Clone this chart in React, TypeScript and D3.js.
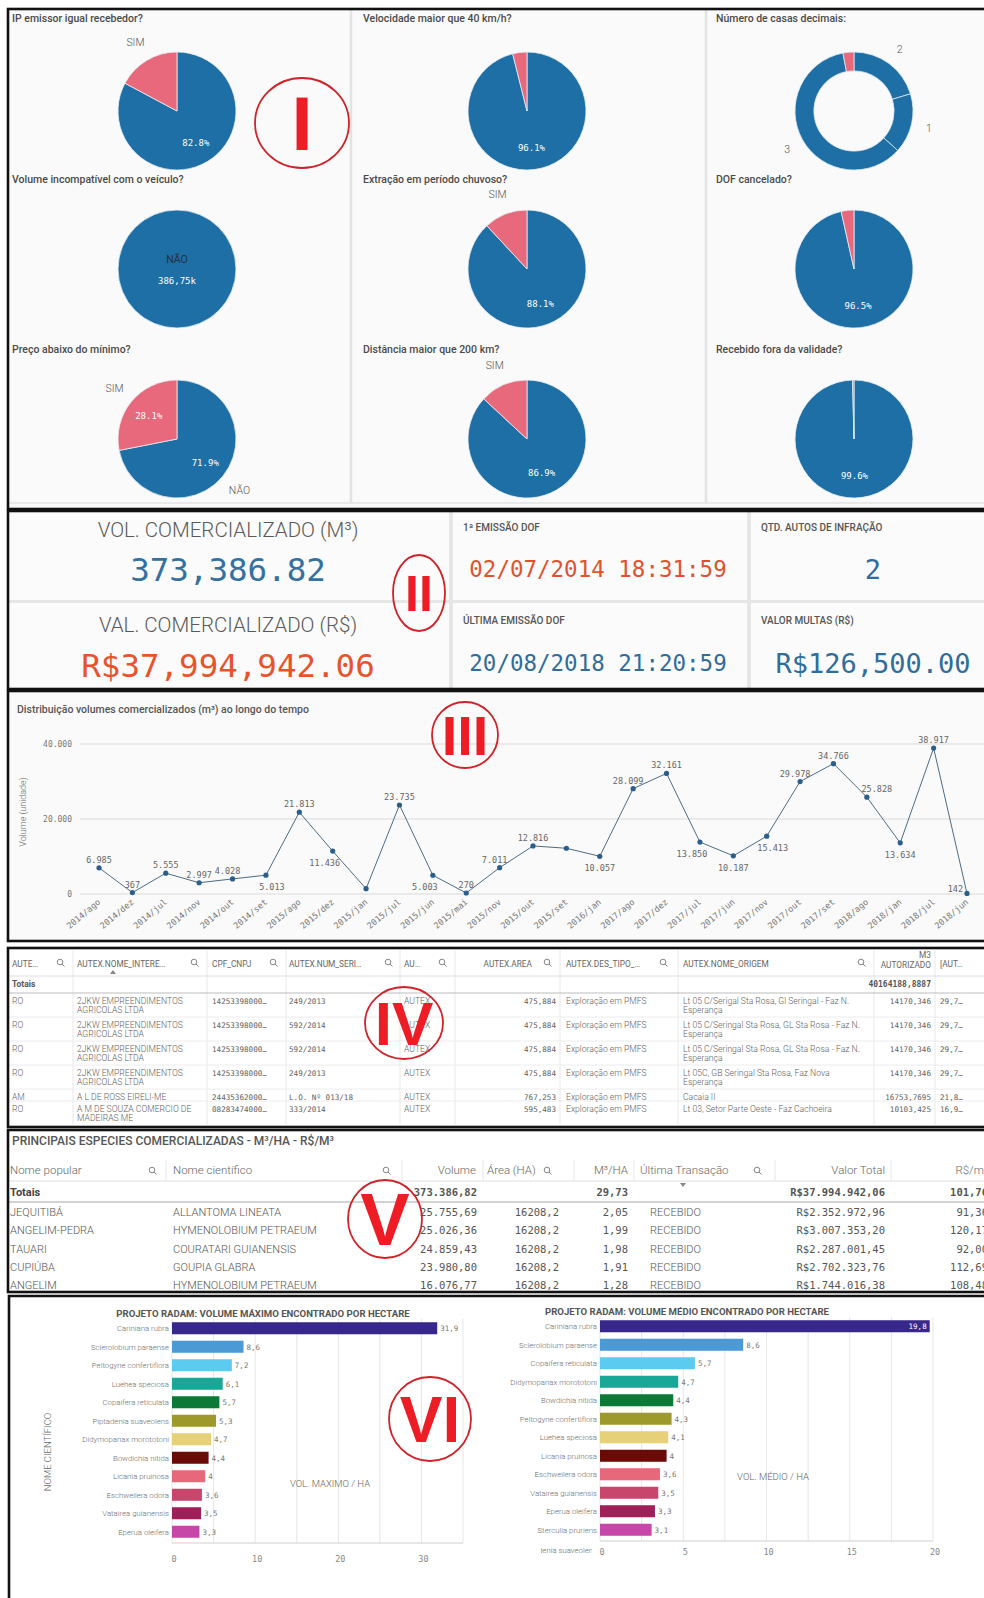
import React from 'react';
import * as d3 from 'd3';

// ---------- I. indicadores
const pieTitles = [
  'IP emissor igual recebedor?',
  'Velocidade maior que 40 km/h?',
  'Número de casas decimais:',
  'Volume incompatível com o veículo?',
  'Extração em período chuvoso?',
  'DOF cancelado?',
  'Preço abaixo do mínimo?',
  'Distância maior que 200 km?',
  'Recebido fora da validade?',
];
const pieCategories = ['NÃO', 'SIM'];
// share of "NÃO" per pie (the donut slot is NaN)
const pieNaoPct = [82.8, 96.1, NaN, 100, 88.1, 96.5, 71.9, 86.9, 99.6];
const volIncompativelNao = 386750;
const decimalCategories = ['2', '1', '3', '0'];
const decimalPct = [20.3, 16.4, 60.3, 3.0];

// ---------- II. KPIs
const kpiVolume = 373386.82;
const kpiValor = 37994942.06;
const kpiPrimeiraEmissao = '02/07/2014 18:31:59';
const kpiUltimaEmissao = '20/08/2018 21:20:59';
const kpiAutos = 2;
const kpiMultas = 126500;

// ---------- III. volumes no tempo
const months = [
  '2014/ago', '2014/dez', '2014/jul', '2014/nov', '2014/out', '2014/set',
  '2015/ago', '2015/dez', '2015/jan', '2015/jul', '2015/jun', '2015/mai',
  '2015/nov', '2015/out', '2015/set', '2016/jan', '2017/ago', '2017/dez',
  '2017/jul', '2017/jun', '2017/nov', '2017/out', '2017/set', '2018/ago',
  '2018/jan', '2018/jul', '2018/jun',
];
const monthVolumes = [
  6985, 367, 5555, 2997, 4028, 5013,
  21813, 11436, 1420, 23735, 5003, 270,
  7011, 12816, 12200, 10057, 28099, 32161,
  13850, 10187, 15413, 29978, 34766, 25828,
  13634, 38917, 142,
];
const unlabeledMonths = ['2015/jan', '2015/set'];
const volumeTicks = [0, 20000, 40000];

// ---------- IV. AUTEX
const autexHeaders = ['AUTE…', 'AUTEX.NOME_INTERE…', 'CPF_CNPJ', 'AUTEX.NUM_SERI…', 'AU…', 'AUTEX.AREA', 'AUTEX.DES_TIPO_…', 'AUTEX.NOME_ORIGEM', 'M3\nAUTORIZADO', '[AUT…'];
const autexUf = ['RO', 'RO', 'RO', 'RO', 'AM', 'RO'];
const autexNome = [
  '2JKW EMPREENDIMENTOS\nAGRICOLAS LTDA',
  '2JKW EMPREENDIMENTOS\nAGRICOLAS LTDA',
  '2JKW EMPREENDIMENTOS\nAGRICOLAS LTDA',
  '2JKW EMPREENDIMENTOS\nAGRICOLAS LTDA',
  'A L DE ROSS EIRELI-ME',
  'A M DE SOUZA COMERCIO DE\nMADEIRAS ME',
];
const autexCpf = ['14253398000…', '14253398000…', '14253398000…', '14253398000…', '24435362000…', '08283474000…'];
const autexNumSerie = ['249/2013', '592/2014', '592/2014', '249/2013', 'L.O. Nº 013/18', '333/2014'];
const autexTipo = ['AUTEX', 'AUTEX', 'AUTEX', 'AUTEX', 'AUTEX', 'AUTEX'];
const autexArea = [475.884, 475.884, 475.884, 475.884, 767.253, 595.483];
const autexDesTipo = ['Exploração em PMFS', 'Exploração em PMFS', 'Exploração em PMFS', 'Exploração em PMFS', 'Exploração em PMFS', 'Exploração em PMFS'];
const autexOrigem = [
  'Lt 05 C/Serigal Sta Rosa, Gl Seringal - Faz N.\nEsperança',
  'Lt 05 C/Seringal Sta Rosa, GL Sta Rosa - Faz N.\nEsperança',
  'Lt 05 C/Seringal Sta Rosa, GL Sta Rosa - Faz N.\nEsperança',
  'Lt 05C, GB Seringal Sta Rosa, Faz Nova\nEsperança',
  'Cacaia II',
  'Lt 03, Setor Parte Oeste - Faz Cachoeira',
];
const autexM3 = [14170.346, 14170.346, 14170.346, 14170.346, 16753.7695, 10103.425];
const autexCut = ['29,7…', '29,7…', '29,7…', '29,7…', '21,8…', '16,9…'];
const autexM3Total = 40164188.8887;

// ---------- V. espécies
const especieHeaders = ['Nome popular', 'Nome científico', 'Volume', 'Área (HA)', 'M³/HA', 'Última Transação', 'Valor Total', 'R$/m³'];
const especiePopular = ['JEQUITIBÁ', 'ANGELIM-PEDRA', 'TAUARI', 'CUPIÚBA', 'ANGELIM'];
const especieCientifico = ['ALLANTOMA LINEATA', 'HYMENOLOBIUM PETRAEUM', 'COURATARI GUIANENSIS', 'GOUPIA GLABRA', 'HYMENOLOBIUM PETRAEUM'];
const especieVolume = [25755.69, 25026.36, 24859.43, 23980.80, 16076.77];
const especieArea = [16208.2, 16208.2, 16208.2, 16208.2, 16208.2];
const especieM3Ha = [2.05, 1.99, 1.98, 1.91, 1.28];
const especieTransacao = ['RECEBIDO', 'RECEBIDO', 'RECEBIDO', 'RECEBIDO', 'RECEBIDO'];
const especieValor = [2352972.96, 3007353.20, 2287001.45, 2702323.76, 1744016.38];
const especieRsM3 = [91.36, 120.17, 92.00, 112.69, 108.48];
const totalVolume = 373386.82;
const totalM3Ha = 29.73;
const totalValor = 37994942.06;
const totalRsM3 = 101.76;

// ---------- VI. RADAM
const radamMaxSpecies = ['Cariniana rubra', 'Sclerolobium paraense', 'Peltogyne confertiflora', 'Luehea speciosa', 'Copaifera reticulata', 'Piptadenia suaveolens', 'Didymopanax morototoni', 'Bowdichia nitida', 'Licania pruinosa', 'Eschweilera odora', 'Vatairea guianensis', 'Eperua oleifera'];
const radamMaxValues = [31.9, 8.6, 7.2, 6.1, 5.7, 5.3, 4.7, 4.4, 4, 3.6, 3.5, 3.3];
const radamMedSpecies = ['Cariniana rubra', 'Sclerolobium paraense', 'Copaifera reticulata', 'Didymopanax morototoni', 'Bowdichia nitida', 'Peltogyne confertiflora', 'Luehea speciosa', 'Licania pruinosa', 'Eschweilera odora', 'Vatairea guianensis', 'Eperua oleifera', 'Sterculia pruriens'];
const radamMedValues = [19.8, 8.6, 5.7, 4.7, 4.4, 4.3, 4.1, 4, 3.6, 3.5, 3.3, 3.1];
const radamMedOverflow = 'Piptadenia suaveolens';
const radamPalette = ['#38288c', '#4b9ad5', '#5ccbf0', '#19a897', '#0c7a36', '#9d9a2b', '#e6d078', '#6b0b07', '#e8687b', '#c8466b', '#9f1f58', '#c647a7'];

const BLUE = '#1d6fa6';
const PINK = '#e8697b';
const MONO = "'DejaVu Sans Mono', monospace";
const SANS = "Roboto, 'Open Sans', sans-serif";

const br = d3.formatLocale({ decimal: ',', thousands: '.', grouping: [3], currency: ['R$', ''] });
const pct = (v: number) => d3.format('.1f')(v) + '%';

function Lines({ x, y, text, lh, ...rest }: any) {
  const parts = String(text).split('\n');
  return (
    <text x={x} y={y} {...rest}>
      {parts.map((p, i) => (
        <tspan key={i} x={x} dy={i === 0 ? 0 : lh}>{p}</tspan>
      ))}
    </text>
  );
}

function SearchIcon({ x, y }: { x: number; y: number }) {
  return (
    <g stroke="#777" strokeWidth={0.9} fill="none">
      <circle cx={x} cy={y} r={2.8} />
      <line x1={x + 2} y1={y + 2} x2={x + 4.5} y2={y + 4.5} />
    </g>
  );
}

function FlagPie({ cx, cy, r, naoPct, total }: { cx: number; cy: number; r: number; naoPct: number; total?: number }) {
  const values = [naoPct, 100 - naoPct];
  const arcs = d3.pie<number>().sort(null)(values);
  const arc = d3.arc<d3.PieArcDatum<number>>().innerRadius(0).outerRadius(r);
  const inner = d3.arc<d3.PieArcDatum<number>>().innerRadius(r * 0.62).outerRadius(r * 0.62);
  const outer = d3.arc<d3.PieArcDatum<number>>().innerRadius(r * 1.37).outerRadius(r * 1.37);
  const colors = [BLUE, PINK];
  return (
    <g transform={`translate(${cx},${cy})`}>
      {arcs.map((a, i) => a.value > 0 && (
        <path key={i} d={arc(a) || ''} fill={colors[i]} stroke="#e9eef3" strokeWidth={0.8} />
      ))}
      {arcs.map((a, i) => {
        const share = a.value;
        if (share >= 99.95) {
          return (
            <g key={'l' + i}>
              <text y={-6} textAnchor="middle" fontSize={10.5} fill="#24313c">{pieCategories[i]}</text>
              <text y={15} textAnchor="middle" fontSize={9} fill="#fff" fontFamily={MONO}>{br.format('.5s')(total || 0)}</text>
            </g>
          );
        }
        const out: any[] = [];
        if (share >= 25) {
          const [lx, ly] = inner.centroid(a);
          out.push(<text key={'i' + i} x={lx} y={ly + 3.5} textAnchor="middle" fontSize={9} fill="#fff" fontFamily={MONO}>{pct(share)}</text>);
        }
        if (share >= 10 && share < 75) {
          const [ox, oy] = outer.centroid(a);
          out.push(<text key={'o' + i} x={ox} y={oy + 4} textAnchor="middle" fontSize={10.5} fill="#555" fontWeight={300}>{pieCategories[i]}</text>);
        }
        return out;
      })}
    </g>
  );
}

function DecimalDonut({ cx, cy, r }: { cx: number; cy: number; r: number }) {
  const arcs = d3.pie<number>().sort(null)(decimalPct);
  const arc = d3.arc<d3.PieArcDatum<number>>().innerRadius(r * 0.68).outerRadius(r);
  const outer = d3.arc<d3.PieArcDatum<number>>().innerRadius(r * 1.3).outerRadius(r * 1.3);
  const total = d3.sum(decimalPct);
  return (
    <g transform={`translate(${cx},${cy})`}>
      {arcs.map((a, i) => (
        <path key={i} d={arc(a) || ''} fill={decimalCategories[i] === '0' ? PINK : BLUE} stroke="#dfe8f0" strokeWidth={0.8} />
      ))}
      {arcs.map((a, i) => {
        if (a.value / total < 0.05) return null;
        const [ox, oy] = outer.centroid(a);
        return <text key={'t' + i} x={ox} y={oy + 4} textAnchor="middle" fontSize={10.5} fill="#555" fontWeight={300}>{decimalCategories[i]}</text>;
      })}
    </g>
  );
}

function IndicatorPies() {
  const titleX = [12, 363, 716];
  const cxs = [177, 527, 854];
  const cys = [111, 269, 439];
  const titleY = [22, 183, 353];
  const r = 59;
  return (
    <g>
      <rect x={8} y={9} width={990} height={500} fill="#fafafa" />
      <line x1={351} x2={351} y1={9} y2={503} stroke="#e3e3e3" strokeWidth={2.5} />
      <line x1={706} x2={706} y1={9} y2={503} stroke="#e3e3e3" strokeWidth={2.5} />
      <line x1={8} x2={990} y1={503} y2={503} stroke="#e3e3e3" strokeWidth={1.5} />
      {pieTitles.map((t, i) => {
        const row = Math.floor(i / 3), col = i % 3;
        return (
          <g key={i}>
            <text x={titleX[col]} y={titleY[row]} fontSize={10.5} fontWeight={500} fill="#4a4a4a">{t}</text>
            {isNaN(pieNaoPct[i])
              ? <DecimalDonut cx={cxs[col]} cy={cys[row]} r={r} />
              : <FlagPie cx={cxs[col]} cy={cys[row]} r={r} naoPct={pieNaoPct[i]} total={volIncompativelNao} />}
          </g>
        );
      })}
    </g>
  );
}

function KpiPanel() {
  const labelStyle = { fontSize: 10, fontWeight: 500, fill: '#555' } as any;
  return (
    <g>
      <rect x={8} y={511} width={990} height={178} fill="#e6e6e6" />
      <rect x={8} y={511} width={441} height={89} fill="#fbfbfb" />
      <rect x={8} y={603} width={441} height={86} fill="#fbfbfb" />
      <rect x={453} y={511} width={294} height={89} fill="#fbfbfb" />
      <rect x={453} y={603} width={294} height={86} fill="#fbfbfb" />
      <rect x={751} y={511} width={247} height={89} fill="#fbfbfb" />
      <rect x={751} y={603} width={247} height={86} fill="#fbfbfb" />

      <text x={228} y={537} textAnchor="middle" fontSize={20.5} fontWeight={300} fill="#595959">VOL. COMERCIALIZADO (M³)</text>
      <text x={228} y={581} textAnchor="middle" fontSize={32.5} fill="#3471a0" fontFamily={MONO}>{d3.format(',.2f')(kpiVolume)}</text>
      <text x={228} y={632} textAnchor="middle" fontSize={20.5} fontWeight={300} fill="#595959">VAL. COMERCIALIZADO (R$)</text>
      <text x={228} y={677} textAnchor="middle" fontSize={32.5} fill="#e9532c" fontFamily={MONO}>{'R' + d3.format('$,.2f')(kpiValor)}</text>

      <text x={463} y={531} {...labelStyle}>1ª EMISSÃO DOF</text>
      <text x={598} y={577} textAnchor="middle" fontSize={22.5} fill="#e0522f" fontFamily={MONO}>{kpiPrimeiraEmissao}</text>
      <text x={463} y={624} {...labelStyle}>ÚLTIMA EMISSÃO DOF</text>
      <text x={598} y={671} textAnchor="middle" fontSize={22.5} fill="#2f6d9c" fontFamily={MONO}>{kpiUltimaEmissao}</text>

      <text x={761} y={531} {...labelStyle}>QTD. AUTOS DE INFRAÇÃO</text>
      <text x={873} y={579} textAnchor="middle" fontSize={27} fill="#2f6d9c" fontFamily={MONO}>{kpiAutos}</text>
      <text x={761} y={624} {...labelStyle}>VALOR MULTAS (R$)</text>
      <text x={873} y={673} textAnchor="middle" fontSize={27} fill="#2f6d9c" fontFamily={MONO}>{'R' + d3.format('$,.2f')(kpiMultas)}</text>
    </g>
  );
}

function VolumeLine() {
  const x = d3.scalePoint<string>().domain(months).range([99, 967]);
  const y = d3.scaleLinear().domain([0, 40000]).range([894, 744]);
  const line = d3.line<number>().x((_, i) => x(months[i]) as number).y(d => y(d));
  const n = monthVolumes.length;
  return (
    <g>
      <rect x={8} y={691} width={990} height={250} fill="#fafafa" />
      <text x={17} y={713} fontSize={10.5} fontWeight={500} fill="#555">Distribuição volumes comercializados (m³) ao longo do tempo</text>
      {volumeTicks.map(t => (
        <g key={t}>
          <line x1={80} x2={984} y1={y(t)} y2={y(t)} stroke="#dadada" strokeWidth={1} />
          <text x={72} y={y(t) + 3} textAnchor="end" fontSize={8} fill="#777" fontFamily={MONO}>{br.format(',d')(t)}</text>
        </g>
      ))}
      <text transform={`translate(26,${y(20000) - 7}) rotate(-90)`} textAnchor="middle" fontSize={9} fill="#666" fontWeight={300}>Volume (unidade)</text>
      <path d={line(monthVolumes) || ''} fill="none" stroke="#4d6b85" strokeWidth={1} />
      {monthVolumes.map((v, i) => (
        <circle key={i} cx={x(months[i])} cy={y(v)} r={2.6} fill="#2b5e8a" />
      ))}
      {monthVolumes.map((v, i) => {
        if (unlabeledMonths.includes(months[i])) return null;
        const px = x(months[i]) as number, py = y(v);
        const prev = i > 0 ? monthVolumes[i - 1] : v;
        const next = i < n - 1 ? monthVolumes[i + 1] : v;
        let above = i === 0 || i === n - 1 || v >= (prev + next) / 2;
        if (y(0) - py < 15) above = true;
        const rising = prev < v && v < next;
        const falling = prev > v && v > next;
        let dx = 0;
        if (above && rising) dx = -5;
        if (above && falling) dx = 10;
        if (!above && rising) dx = 6;
        if (!above && falling) dx = -8;
        let anchor = 'middle';
        let ty = above ? py - 5 : py + 15;
        if (i === n - 1) { anchor = 'end'; dx = -4; ty = py - 1; }
        return (
          <text key={'v' + i} x={px + dx} y={ty} textAnchor={anchor} fontSize={8.5} fill="#666" fontFamily={MONO}>{br.format(',d')(v)}</text>
        );
      })}
      {months.map(m => (
        <text key={m} transform={`translate(${(x(m) as number) + 2},${903}) rotate(-40)`} textAnchor="end" fontSize={8.5} fill="#777" fontFamily={MONO}>{m}</text>
      ))}
    </g>
  );
}

function AutexTable() {
  const seps = [8, 73, 207, 286, 400, 455, 560, 678, 874, 935, 998];
  const textX = [12, 77, 212, 289, 404, null, 566, 683, null, 940];
  const rightX = [null, null, null, null, null, 556, null, null, 931, null];
  const headRightX = [null, null, null, null, null, 532, null, null, 931, null];
  const icons = [60, 194, 273, 388, 442, 547, 663, 861];
  const rows = autexUf.map((uf, i) => [
    uf, autexNome[i], autexCpf[i], autexNumSerie[i], autexTipo[i],
    br.format('.3f')(autexArea[i]), autexDesTipo[i], autexOrigem[i],
    br.format('.6~f')(autexM3[i]), autexCut[i],
  ]);
  const numeric = [false, false, true, true, false, true, false, false, true, true];
  let top = 993;
  const tops = rows.map(r => {
    const lines = d3.max(r, c => String(c).split('\n').length) || 1;
    const t = top;
    top += 12 * lines;
    return t;
  });
  return (
    <g>
      <rect x={8} y={948} width={990} height={179} fill="#fff" />
      {seps.slice(1, -1).map(s => <line key={s} x1={s} x2={s} y1={950} y2={1125} stroke="#e8e8e8" />)}
      <line x1={8} x2={998} y1={976} y2={976} stroke="#dedede" />
      <line x1={8} x2={998} y1={993} y2={993} stroke="#bdbdbd" />
      {tops.slice(1).map(t => <line key={t} x1={8} x2={998} y1={t} y2={t} stroke="#ececec" />)}
      {autexHeaders.map((h, c) => {
        if (headRightX[c] != null) {
          return h.includes('\n')
            ? <Lines key={c} x={headRightX[c]} y={958} lh={10} text={h} textAnchor="end" fontSize={8.3} fill="#666" />
            : <text key={c} x={headRightX[c]} y={967} textAnchor="end" fontSize={8.3} fill="#666">{h}</text>;
        }
        return <text key={c} x={textX[c]} y={967} fontSize={8.3} fill="#666">{h}</text>;
      })}
      {icons.map(ix => <SearchIcon key={ix} x={ix} y={962} />)}
      <path d="M110,974 L113,970 L116,974 Z" fill="#888" />
      <text x={12} y={987} fontSize={8.5} fontWeight={700} fill="#555">Totais</text>
      <text x={931} y={987} textAnchor="end" fontSize={8} fontWeight={700} fill="#555" fontFamily={MONO}>{br.format('.4f')(autexM3Total)}</text>
      {rows.map((r, ri) => (
        <g key={ri}>
          {r.map((cell, c) => {
            const mono = numeric[c];
            const props: any = { fontSize: mono ? 7.6 : 8.6, fill: '#616161', fontFamily: mono ? MONO : SANS, fontWeight: 300 };
            const y0 = tops[ri] + 11;
            if (rightX[c] != null) return <text key={c} x={rightX[c]} y={y0} textAnchor="end" {...props}>{cell}</text>;
            return <Lines key={c} x={textX[c]} y={y0} lh={9} text={cell} {...props} />;
          })}
        </g>
      ))}
    </g>
  );
}

function SpeciesTable() {
  const seps = [166, 402, 483, 574, 634, 775, 891];
  const rowY = especiePopular.map((_, i) => 1212 + i * 18.25);
  const cellFont: any = { fontSize: 11, fill: '#555', fontWeight: 300 };
  const numFont: any = { fontSize: 10.5, fill: '#555', fontFamily: MONO };
  return (
    <g>
      <rect x={8} y={1130} width={990} height={162} fill="#fff" />
      <text x={12} y={1145} fontSize={12} fontWeight={500} fill="#555">PRINCIPAIS ESPECIES COMERCIALIZADAS - M³/HA - R$/M³</text>
      {seps.map(s => <line key={s} x1={s} x2={s} y1={1160} y2={1181} stroke="#e6e6e6" />)}
      <line x1={8} x2={998} y1={1181} y2={1181} stroke="#e0e0e0" />
      <line x1={8} x2={998} y1={1202} y2={1202} stroke="#a8a8a8" strokeWidth={1.2} />
      <text x={10} y={1174} fontSize={11.5} fontWeight={300} fill="#666">{especieHeaders[0]}</text>
      <text x={173} y={1174} fontSize={11.5} fontWeight={300} fill="#666">{especieHeaders[1]}</text>
      <text x={476} y={1174} textAnchor="end" fontSize={11.5} fontWeight={300} fill="#666">{especieHeaders[2]}</text>
      <text x={487} y={1174} fontSize={11.5} fontWeight={300} fill="#666">{especieHeaders[3]}</text>
      <text x={628} y={1174} textAnchor="end" fontSize={11.5} fontWeight={300} fill="#666">{especieHeaders[4]}</text>
      <text x={640} y={1174} fontSize={11.5} fontWeight={300} fill="#666">{especieHeaders[5]}</text>
      <text x={885} y={1174} textAnchor="end" fontSize={11.5} fontWeight={300} fill="#666">{especieHeaders[6]}</text>
      <text x={988} y={1174} textAnchor="end" fontSize={11.5} fontWeight={300} fill="#666">{especieHeaders[7]}</text>
      {[152, 386, 547, 757].map(ix => <SearchIcon key={ix} x={ix} y={1170} />)}
      <path d="M680,1183 L686,1183 L683,1187 Z" fill="#888" />

      <text x={10} y={1196} fontSize={11} fontWeight={700} fill="#444">Totais</text>
      <text x={477} y={1196} textAnchor="end" {...numFont} fontWeight={700}>{br.format(',.2f')(totalVolume)}</text>
      <text x={628} y={1196} textAnchor="end" {...numFont} fontWeight={700}>{br.format(',.2f')(totalM3Ha)}</text>
      <text x={885} y={1196} textAnchor="end" {...numFont} fontWeight={700}>{br.format('$,.2f')(totalValor)}</text>
      <text x={988} y={1196} textAnchor="end" {...numFont} fontWeight={700}>{br.format(',.2f')(totalRsM3)}</text>

      {especiePopular.map((p, i) => (
        <g key={p + i}>
          <text x={10} y={rowY[i] + 4} {...cellFont}>{p}</text>
          <text x={173} y={rowY[i] + 4} {...cellFont}>{especieCientifico[i]}</text>
          <text x={477} y={rowY[i] + 4} textAnchor="end" {...numFont}>{br.format(',.2f')(especieVolume[i])}</text>
          <text x={559} y={rowY[i] + 4} textAnchor="end" {...numFont}>{br.format('.1f')(especieArea[i])}</text>
          <text x={628} y={rowY[i] + 4} textAnchor="end" {...numFont}>{br.format('.2f')(especieM3Ha[i])}</text>
          <text x={650} y={rowY[i] + 4} {...cellFont}>{especieTransacao[i]}</text>
          <text x={885} y={rowY[i] + 4} textAnchor="end" {...numFont}>{br.format('$,.2f')(especieValor[i])}</text>
          <text x={988} y={rowY[i] + 4} textAnchor="end" {...numFont}>{br.format('.2f')(especieRsM3[i])}</text>
        </g>
      ))}
    </g>
  );
}

function RadamBars(props: any) {
  const { title, species, values, x0, x1, max, gridStep, tickStep, bandTop, bandBottom, titleX, titleY, tickY, axisTitle, axisTitleX, axisTitleY, yTitle, overflow, clipId } = props;
  const x = d3.scaleLinear().domain([0, max]).range([x0, x1]);
  const y = d3.scaleBand<string>().domain(species).range([bandTop, bandBottom]).paddingInner(0.35).paddingOuter(0.175);
  const grid = d3.range(0, max + 0.001, gridStep);
  const ticks = d3.range(0, max + 0.001, tickStep);
  const lab = br.format('.1~f');
  return (
    <g>
      <text x={titleX} y={titleY} textAnchor="middle" fontSize={9.6} fontWeight={700} fill="#555">{title}</text>
      {grid.map(g => <line key={g} x1={x(g)} x2={x(g)} y1={bandTop} y2={bandBottom + 2} stroke="#e6e6e6" />)}
      <line x1={x0} x2={x1} y1={bandBottom + 2} y2={bandBottom + 2} stroke="#cfcfcf" />
      {ticks.map(t => (
        <text key={t} x={x(t) + 2} y={tickY + 3} textAnchor="middle" fontSize={8.5} fill="#888" fontFamily={MONO}>{t}</text>
      ))}
      {species.map((s: string, i: number) => {
        const by = y(s) as number;
        const bw = y.bandwidth();
        const xe = x(values[i]);
        const inside = xe + 20 > x1;
        return (
          <g key={s}>
            <text x={x0 - 3} y={by + bw / 2 + 3} textAnchor="end" fontSize={7.8} fill="#6d6d6d" fontWeight={300}>{s}</text>
            <rect x={x0} y={by} width={xe - x0} height={bw} fill={radamPalette[i]} />
            <text x={inside ? xe - 3 : xe + 3} y={by + bw / 2 + 2.8} textAnchor={inside ? 'end' : 'start'} fontSize={7.5} fill={inside ? '#fff' : '#777'} fontFamily={MONO}>{lab(values[i])}</text>
          </g>
        );
      })}
      {overflow && (
        <g>
          <clipPath id={clipId}><rect x={541} y={bandBottom + 2} width={51} height={20} /></clipPath>
          <text x={x0 - 3} y={bandBottom + 14} textAnchor="end" fontSize={7.8} fill="#6d6d6d" fontWeight={300} clipPath={`url(#${clipId})`}>{overflow}</text>
        </g>
      )}
      <text x={axisTitleX} y={axisTitleY} textAnchor="middle" fontSize={9.5} fill="#666" fontWeight={300}>{axisTitle}</text>
      {yTitle && (
        <text transform={`translate(51,1452) rotate(-90)`} textAnchor="middle" fontSize={9.5} fill="#666" fontWeight={300}>{yTitle}</text>
      )}
    </g>
  );
}

function Frames() {
  const box = (y0: number, y1: number) => (
    <rect key={y0} x={8} y={y0} width={990} height={y1 - y0} fill="none" stroke="#111" strokeWidth={2.6} />
  );
  return (
    <g>
      {box(9, 509)}
      {box(511, 689)}
      {box(691, 941)}
      {box(948, 1127)}
      {box(1130, 1292)}
      <path d="M9,1600 L9,1296 L998,1296" fill="none" stroke="#111" strokeWidth={2.6} />
    </g>
  );
}

function Annotations() {
  const red = '#ee1c25';
  const ring = '#cf2229';
  const font = "'Liberation Sans', Arial, sans-serif";
  const marks = [
    { t: 'I', cx: 302, cy: 123, rx: 47, ry: 45, fs: 76 },
    { t: 'II', cx: 419, cy: 593, rx: 26, ry: 38, fs: 50 },
    { t: 'III', cx: 465, cy: 735, rx: 33, ry: 33, fs: 56 },
    { t: 'IV', cx: 404, cy: 1023, rx: 39, ry: 36, fs: 62 },
    { t: 'V', cx: 385, cy: 1219, rx: 37, ry: 39, fs: 74 },
    { t: 'VI', cx: 430, cy: 1419, rx: 41, ry: 42, fs: 64 },
  ];
  return (
    <g>
      {marks.map(m => (
        <g key={m.t}>
          <ellipse cx={m.cx} cy={m.cy} rx={m.rx} ry={m.ry} fill="none" stroke={ring} strokeWidth={1.8} />
          <text x={m.cx} y={m.cy + m.fs * 0.358} textAnchor="middle" fontSize={m.fs} fontWeight={700} fill={red} fontFamily={font}>{m.t}</text>
        </g>
      ))}
    </g>
  );
}

export default function App() {
  return (
    <svg width={984} height={1598} viewBox="0 0 984 1598" fontFamily={SANS}
      style={{ position: 'absolute', left: 0, top: 0, background: '#fff' }}>
      <IndicatorPies />
      <KpiPanel />
      <VolumeLine />
      <AutexTable />
      <SpeciesTable />
      <rect x={9} y={1296} width={989} height={302} fill="#fff" />
      <RadamBars title="PROJETO RADAM: VOLUME MÁXIMO ENCONTRADO POR HECTARE" species={radamMaxSpecies} values={radamMaxValues}
        x0={172} x1={463} max={35} gridStep={5} tickStep={10} bandTop={1319} bandBottom={1541}
        titleX={263} titleY={1317} tickY={1559} axisTitle="VOL. MAXIMO / HA" axisTitleX={330} axisTitleY={1487} yTitle="NOME CIENTÍFICO" />
      <RadamBars title="PROJETO RADAM: VOLUME MÉDIO ENCONTRADO POR HECTARE" species={radamMedSpecies} values={radamMedValues}
        x0={600} x1={933} max={20} gridStep={2.5} tickStep={5} bandTop={1317} bandBottom={1539}
        titleX={687} titleY={1315} tickY={1552} axisTitle="VOL. MÉDIO / HA" axisTitleX={773} axisTitleY={1480}
        overflow={radamMedOverflow} clipId="overflowClip" />
      <Frames />
      <Annotations />
    </svg>
  );
}
